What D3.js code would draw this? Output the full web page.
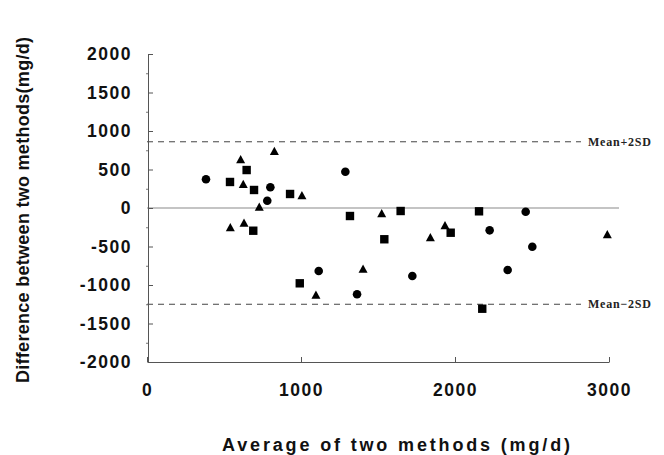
<!DOCTYPE html>
<html>
<head>
<meta charset="utf-8">
<script src="https://cdn.jsdelivr.net/npm/d3@7.9.0/dist/d3.min.js"></script>
<style>
  body { margin: 0; background: #fff; }
  svg { display: block; }
</style>
</head>
<body>
<div id="chart"></div>
<script>
// data: [average, difference]
const circlePts = [
    [383, 373], [801, 269], [781, 95], [1115, -818], [1288, 471], [1364, -1121],
    [1723, -883], [2225, -290], [2342, -805], [2459, -48], [2502, -503]
];
const squarePts = [
    [647, 493], [539, 338], [695, 234], [929, 182], [690, -295], [992, -978],
    [1318, -104], [1541, -406], [1647, -39], [1972, -321], [2156, -43], [2177, -1308]
];
const trianglePts = [
    [827, 740], [608, 632], [625, 312], [1006, 165], [729, 17], [541, -251],
    [630, -191], [1097, -1126], [1403, -788], [1524, -69], [1840, -381], [1935, -225],
    [2989, -342]
];
const limits = [
    { label: 'Mean+2SD', value: 860 },
    { label: 'Mean\u22122SD', value: -1250 }
];
const xTicks = [0, 1000, 2000, 3000];
const yTicks = [2000, 1500, 1000, 500, 0, -500, -1000, -1500, -2000];
const yMinor = [1750, 1250, 750, 250, -250, -750, -1250, -1750];

const width = 664;
const height = 455;

const svg = d3.select('#chart')
    .append('svg')
    .attr('width', width)
    .attr('height', height);

const xScale = d3.scaleLinear().domain([0, 3000]).range([147, 609]);
const yScale = d3.scaleLinear().domain([-2000, 2000]).range([362, 54]);

const tickFont = "'Liberation Sans', Arial, sans-serif";
const plain = d => String(d);   // keep "-500", no thousands comma

// zero line
svg.append('line')
    .attr('x1', xScale(0)).attr('x2', xScale(3065))
    .attr('y1', yScale(0)).attr('y2', yScale(0))
    .attr('stroke', '#8a8a8a')
    .attr('stroke-width', 1.2);

// mean +/- 2SD
limits.forEach(l => {
    svg.append('line')
        .attr('x1', xScale(0)).attr('x2', xScale(2818))
        .attr('y1', yScale(l.value)).attr('y2', yScale(l.value))
        .attr('stroke', '#444')
        .attr('stroke-width', 1)
        .attr('stroke-dasharray', '6,5');
    svg.append('text')
        .attr('x', xScale(2863))
        .attr('y', yScale(l.value) + 4)
        .attr('font-family', "'Liberation Serif', 'Times New Roman', serif")
        .attr('font-weight', 'bold')
        .attr('font-size', '12px')
        .attr('letter-spacing', '0.8px')
        .attr('fill', '#222')
        .text(l.label);
});

// y axis
const yAxis = svg.append('g')
    .attr('transform', `translate(${xScale(0) + 1}, 0)`)
    .call(d3.axisLeft(yScale).tickValues(yTicks).tickFormat(plain)
        .tickSize(-5).tickSizeOuter(0).tickPadding(16));
yAxis.select('.domain').attr('stroke', '#555');
yAxis.selectAll('.tick line').attr('stroke', '#555');
yAxis.selectAll('text')
    .attr('font-family', tickFont)
    .attr('font-weight', 'bold')
    .attr('font-size', '17.5px')
    .attr('letter-spacing', '1.5px')
    .attr('fill', '#111');

svg.append('g')
    .attr('transform', `translate(${xScale(0) + 1}, 0)`)
    .call(d3.axisLeft(yScale).tickValues(yMinor).tickSize(2).tickFormat(''))
    .call(g => g.select('.domain').remove())
    .selectAll('.tick line').attr('stroke', '#777');

// x axis
const xAxis = svg.append('g')
    .attr('transform', `translate(0, ${yScale(-2000)})`)
    .call(d3.axisBottom(xScale).tickValues(xTicks).tickFormat(plain)
        .tickSize(-5).tickSizeOuter(0).tickPadding(22));
xAxis.select('.domain').attr('stroke', '#555');
xAxis.selectAll('.tick line').attr('stroke', '#555');
xAxis.selectAll('text')
    .attr('font-family', tickFont)
    .attr('font-weight', 'bold')
    .attr('font-size', '17.5px')
    .attr('letter-spacing', '1.5px')
    .attr('fill', '#111');

// axis titles
svg.append('text')
    .attr('x', 396)
    .attr('y', 451)
    .attr('text-anchor', 'middle')
    .attr('font-family', tickFont)
    .attr('font-weight', 'bold')
    .attr('font-size', '18px')
    .attr('textLength', 348)
    .attr('lengthAdjust', 'spacing')
    .attr('fill', '#111')
    .text('Average of two methods (mg/d)');

svg.append('text')
    .attr('transform', 'translate(29, 210) rotate(-90)')
    .attr('text-anchor', 'middle')
    .attr('font-family', tickFont)
    .attr('font-weight', 'bold')
    .attr('font-size', '18px')
    .attr('textLength', 346)
    .attr('lengthAdjust', 'spacing')
    .attr('fill', '#111')
    .text('Difference between two methods(mg/d)');

// markers
const marks = svg.append('g').attr('class', 'marks');

marks.selectAll('circle')
    .data(circlePts)
    .enter()
    .append('circle')
    .attr('cx', d => xScale(d[0]))
    .attr('cy', d => yScale(d[1]))
    .attr('r', 4.3)
    .attr('fill', '#000');

marks.selectAll('rect')
    .data(squarePts)
    .enter()
    .append('rect')
    .attr('x', d => xScale(d[0]) - 4.2)
    .attr('y', d => yScale(d[1]) - 4.2)
    .attr('width', 8.4)
    .attr('height', 8.4)
    .attr('fill', '#000');

marks.selectAll('path.tri')
    .data(trianglePts)
    .enter()
    .append('path')
    .attr('class', 'tri')
    .attr('d', d => {
        const x = xScale(d[0]), y = yScale(d[1]);
        return `M${x},${y - 4.3}L${x + 4.5},${y + 4}L${x - 4.5},${y + 4}Z`;
    })
    .attr('fill', '#000');
</script>
</body>
</html>
